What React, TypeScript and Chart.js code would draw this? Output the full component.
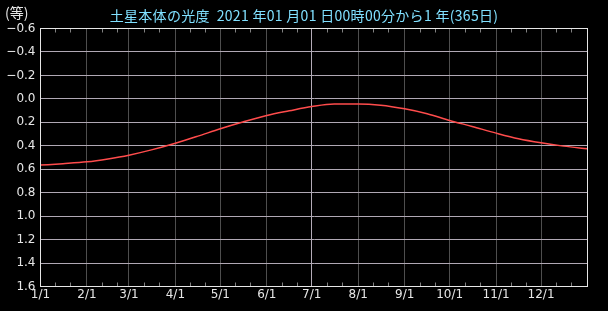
import React, { useEffect, useRef } from "react";
import { Chart, registerables } from "chart.js";

Chart.register(...registerables);

// Day-of-year (0 = 1/1) of the sample points and the read magnitudes
const sampleDays = [0, 15, 31, 45, 59, 74, 90, 105, 120, 135, 151, 166, 181, 196, 212, 227, 243, 258, 273, 288, 304, 319, 334, 349, 365];
const magnitudes = [0.565, 0.553, 0.537, 0.512, 0.48, 0.435, 0.378, 0.318, 0.255, 0.198, 0.142, 0.102, 0.065, 0.043, 0.043, 0.054, 0.085, 0.127, 0.184, 0.235, 0.292, 0.34, 0.375, 0.403, 0.426];

// Month starts (x ticks) and labels
const monthStartDays = [0, 31, 59, 90, 120, 151, 181, 212, 243, 273, 304, 334];
const monthLabels = ["1/1", "2/1", "3/1", "4/1", "5/1", "6/1", "7/1", "8/1", "9/1", "10/1", "11/1", "12/1"];
const minorOffsets = [10, 20];
const highlightDay = 181;

// Y ticks
const yTickValues = [-0.6, -0.4, -0.2, 0, 0.2, 0.4, 0.6, 0.8, 1.0, 1.2, 1.4, 1.6];
const yTickLabels = ["−0.6", "−0.4", "−0.2", "0.0", "0.2", "0.4", "0.6", "0.8", "1.0", "1.2", "1.4", "1.6"];

const titleText = "土星本体の光度  2021 年01 月01 日00時00分から1 年(365日)";
const unitText = "(等)";

export default function App() {
  const ref = useRef<HTMLCanvasElement>(null);

  useEffect(() => {
    if (!ref.current) return;
    const framePlugin = {
      id: "frame",
      beforeDraw(chart: any) {
        const ctx = chart.ctx;
        ctx.save();
        ctx.fillStyle = "#000000";
        ctx.fillRect(0, 0, chart.width, chart.height);
        ctx.restore();
      },
      afterDraw(chart: any) {
        const ctx = chart.ctx;
        const a = chart.chartArea;
        const xs = chart.scales.x;
        ctx.save();
        // minor ticks
        ctx.strokeStyle = "#808080";
        ctx.lineWidth = 1;
        ctx.beginPath();
        monthStartDays.forEach((d) => {
          minorOffsets.forEach((o) => {
            const px = Math.round(xs.getPixelForValue(d + o)) + 0.5;
            ctx.moveTo(px, a.top);
            ctx.lineTo(px, a.top + 4);
            ctx.moveTo(px, a.bottom);
            ctx.lineTo(px, a.bottom - 4);
          });
        });
        ctx.stroke();
        // frame
        ctx.strokeStyle = "#e6e6e6";
        ctx.strokeRect(a.left, a.top, a.right - a.left, a.bottom - a.top);
        // titles
        ctx.font = '14px "Noto Sans CJK JP", "DejaVu Sans", sans-serif';
        ctx.textBaseline = "middle";
        ctx.fillStyle = "#80e0ff";
        ctx.textAlign = "center";
        try { (ctx as any).letterSpacing = "0.3px"; } catch (e) {}
        ctx.fillText(titleText, 304, 15.5);
        try { (ctx as any).letterSpacing = "0px"; } catch (e) {}
        ctx.fillStyle = "#e6e6e6";
        ctx.textAlign = "left";
        ctx.fillText(unitText, 5, 12.5);
        ctx.restore();
      },
    };

    const chart = new Chart(ref.current, {
      type: "line",
      data: {
        datasets: [
          {
            data: sampleDays.map((d, i) => ({ x: d, y: magnitudes[i] })),
            borderColor: "#ff4c4c",
            borderWidth: 1.5,
            pointRadius: 0,
            cubicInterpolationMode: "monotone",
            fill: false,
          },
        ],
      },
      options: {
        animation: false,
        responsive: false,
        events: [],
        layout: { padding: { top: 28.5, right: 20.5, left: 0, bottom: 0 } },
        plugins: { legend: { display: false }, tooltip: { enabled: false }, title: { display: false } },
        scales: {
          x: {
            type: "linear",
            min: 0,
            max: 365,
            afterBuildTicks: (scale: any) => {
              scale.ticks = monthStartDays.map((v) => ({ value: v }));
            },
            afterFit: (scale: any) => {
              scale.height = 24.5;
            },
            ticks: {
              autoSkip: false,
              maxRotation: 0,
              minRotation: 0,
              padding: 1,
              color: "#e6e6e6",
              font: { family: "DejaVu Sans", size: 12 },
              callback: (v: any) => monthLabels[monthStartDays.indexOf(v)] ?? "",
            },
            grid: {
              drawTicks: false,
              lineWidth: 1,
              color: (ctx: any) => (monthStartDays[ctx.index] === highlightDay ? "#b4acb8" : "#4e4e4e"),
            },
            border: { display: false },
          },
          y: {
            type: "linear",
            reverse: true,
            min: -0.6,
            max: 1.6,
            afterBuildTicks: (scale: any) => {
              scale.ticks = yTickValues.map((v) => ({ value: v }));
            },
            afterFit: (scale: any) => {
              scale.width = 40.5;
            },
            ticks: {
              autoSkip: false,
              padding: 5,
              color: "#e6e6e6",
              font: { family: "DejaVu Sans", size: 12 },
              callback: (_v: any, i: number) => yTickLabels[i],
            },
            grid: { drawTicks: false, color: "#b0a8b4", lineWidth: 1 },
            border: { display: false },
          },
        },
      },
      plugins: [framePlugin],
    } as any);
    return () => chart.destroy();
  }, []);

  return (
    <div style={{ position: "fixed", left: 0, top: 0, width: 608, height: 311, background: "#000" }}>
      <canvas ref={ref} width={608} height={311} style={{ display: "block" }} />
    </div>
  );
}
